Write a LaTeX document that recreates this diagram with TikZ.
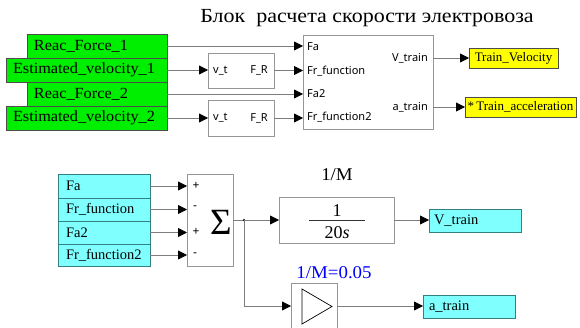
\documentclass[tikz,border=0pt]{standalone}
\usepackage{fontspec}
\setmainfont{Liberation Serif}
\setsansfont{Noto Sans}
\usetikzlibrary{arrows.meta}
\definecolor{lncol}{RGB}{125,125,125}
\definecolor{bdcol}{RGB}{150,150,150}
\definecolor{grn}{RGB}{0,238,0}
\definecolor{cyn}{RGB}{128,255,255}
\definecolor{ylw}{RGB}{255,255,0}
\definecolor{blu}{RGB}{0,0,255}
\newcommand{\wideit}[2]{\scalebox{#1}[1]{#2}}
\tikzset{
  x=1pt, y=-1pt,
  conn/.style={draw=lncol, line width=0.8pt, -{Triangle[length=9pt,width=9pt,color=black]}},
  wire/.style={draw=lncol, line width=0.8pt},
  blk/.style={draw=bdcol, line width=0.8pt, fill=white, anchor=north west, inner sep=0pt, outer sep=0pt},
  gbox/.style={draw=black!70, line width=0.6pt, fill=grn, anchor=north west, inner sep=0pt, outer sep=0pt, minimum height=24pt, font=\fontsize{15.5}{17}\selectfont, text width=#1, align=left},
  cbox/.style={draw=teal!60!gray, line width=0.6pt, fill=cyn, anchor=north west, inner sep=0pt, outer sep=0pt, font=\fontsize{14.5}{16}\selectfont, text width=#1, align=left},
  ybox/.style={draw=black!70, line width=0.6pt, fill=ylw, anchor=north west, inner sep=0pt, outer sep=0pt, minimum height=20pt, font=\fontsize{13}{15}\selectfont},
  port/.style={font=\sffamily\fontsize{11}{12}\selectfont, inner sep=0pt},
}
\begin{document}
\begin{tikzpicture}
\useasboundingbox (0,0) rectangle (580,328);
% title
\node[font=\fontsize{20}{22}\selectfont, inner sep=0pt] (title) at (367,18) {\wideit{1.1}{Блок\ \ расчета скорости электровоза}};
% green inputs
\node[gbox=140pt] (g1) at (27,34) {\hspace{7pt}\wideit{1.05}{Reac\_Force\_1}};
\node[gbox=161pt] (g2) at (6,58) {\hspace{7pt}\wideit{1.05}{Estimated\_velocity\_1}};
\node[gbox=140pt] (g3) at (27,82) {\hspace{7pt}\wideit{1.05}{Reac\_Force\_2}};
\node[gbox=161pt] (g4) at (6,106) {\hspace{7pt}\wideit{1.05}{Estimated\_velocity\_2}};
% small F_R blocks
\node[blk, minimum width=66pt, minimum height=35pt] (s1) at (208,53) {};
\node[blk, minimum width=66pt, minimum height=36pt] (s2) at (208,100) {};
\node[port, anchor=west] (s1i) at ([xshift=5pt]s1.west) {v\_t};
\node[port, anchor=east] (s1o) at ([xshift=-6pt]s1.east) {F\_R};
\node[port, anchor=west] (s2i) at ([xshift=5pt]s2.west) {v\_t};
\node[port, anchor=east] (s2o) at ([xshift=-6pt]s2.east) {F\_R};
% big block
\node[blk, minimum width=130pt, minimum height=94pt] (big) at (303,35) {};
\node[port, anchor=west] (p1) at (307,47) {Fa};
\node[port, anchor=west] (p2) at (307,71) {Fr\_function};
\node[port, anchor=west] (p3) at (307,94) {Fa2};
\node[port, anchor=west] (p4) at (307,117) {Fr\_function2};
\node[port, anchor=east] (o1) at (428,58) {V\_train};
\node[port, anchor=east] (o2) at (428,107) {a\_train};
% outputs
\node[ybox, minimum width=89pt] (tv) at (469,48) {Train\_Velocity};
\node[ybox, minimum width=111pt] (ta) at (465,97) {*\,Train\_acceleration};
% top connectors
\draw[conn] (g1.east) -- (g1.east -| big.west);
\draw[conn] (g2.east) -- (g2.east -| s1.west);
\draw[conn] (s1.east) -- (s1.east -| big.west);
\draw[conn] (g3.east) -- (g3.east -| big.west);
\draw[conn] (g4.east) -- (g4.east -| s2.west);
\draw[conn] (s2.east) -- (s2.east -| big.west);
\coordinate (bo1) at (433,58);
\coordinate (bo2) at (433,107);
\draw[conn] (bo1) -- (tv.west);
\draw[conn] (bo2) -- (ta.west);
% ---- bottom ----
\node[cbox=92pt, minimum height=24pt] (c1) at (58,174) {\hspace{8pt}Fa};
\node[cbox=92pt, minimum height=23pt] (c2) at (58,198) {\hspace{8pt}Fr\_function};
\node[cbox=92pt, minimum height=23pt] (c3) at (58,221) {\hspace{8pt}Fa2};
\node[cbox=92pt, minimum height=22pt] (c4) at (58,244) {\hspace{8pt}Fr\_function2};
\node[blk, minimum width=46pt, minimum height=92pt] (sum) at (187,174) {};
\node[font=\fontsize{37}{38}\selectfont, inner sep=0pt] (sig) at (221,222) {Σ};
\node[port, font=\sffamily\bfseries\fontsize{12}{12}\selectfont] (sg1) at (196,186) {+};
\node[port, font=\sffamily\bfseries\fontsize{12}{12}\selectfont] (sg2) at (195,208) {-};
\node[port, font=\sffamily\bfseries\fontsize{12}{12}\selectfont] (sg3) at (196,232) {+};
\node[port, font=\sffamily\bfseries\fontsize{12}{12}\selectfont] (sg4) at (195,255) {-};
\draw[conn] (c1.east) -- (c1.east -| sum.west);
\draw[conn] (c2.east) -- (c2.east -| sum.west);
\draw[conn] (c3.east) -- (c3.east -| sum.west);
\draw[conn] (c4.east) -- (c4.east -| sum.west);
% transfer function
\node[blk, minimum width=115pt, minimum height=46pt] (tf) at (279,197) {};
\node[inner sep=0pt, font=\fontsize{18}{20}\selectfont] (tfl) at (337,175) {\wideit{1.05}{1/M}};
\node[inner sep=0pt, font=\fontsize{18}{20}\selectfont] (tfn) at (337,211) {1};
\node[inner sep=0pt, font=\fontsize{18}{20}\selectfont] (tfd) at (337,233) {20\textit{s}};
\draw[line width=0.7pt, black!80] (309,220) -- (365,220);
% gain
\node[blk, minimum width=46pt, minimum height=46pt] (gain) at (291,283) {};
\draw[line width=0.7pt] (302,289) -- (332,306.5) -- (302,324) -- cycle;
\node[inner sep=0pt, text=blu, font=\fontsize{18}{20}\selectfont] (gl) at (334,273) {\wideit{1.05}{1/M=0.05}};
% outputs
\node[cbox=92pt, minimum height=23pt] (vt) at (429,209) {\hspace{5pt}V\_train};
\node[cbox=92pt, minimum height=23pt] (at) at (423,295) {\hspace{6pt}a\_train};
% bottom connectors
\coordinate (jn) at (244,220);
\draw[wire] (sum.east |- jn) -- (jn);
\fill (jn) circle (1.2pt);
\draw[conn] (jn) -- (tf.west);
\draw[conn] (jn) |- (gain.west);
\draw[conn] (tf.east) -- (tf.east -| vt.west);
\draw[conn] (gain.east) -- (gain.east -| at.west);
\end{tikzpicture}
\end{document}
